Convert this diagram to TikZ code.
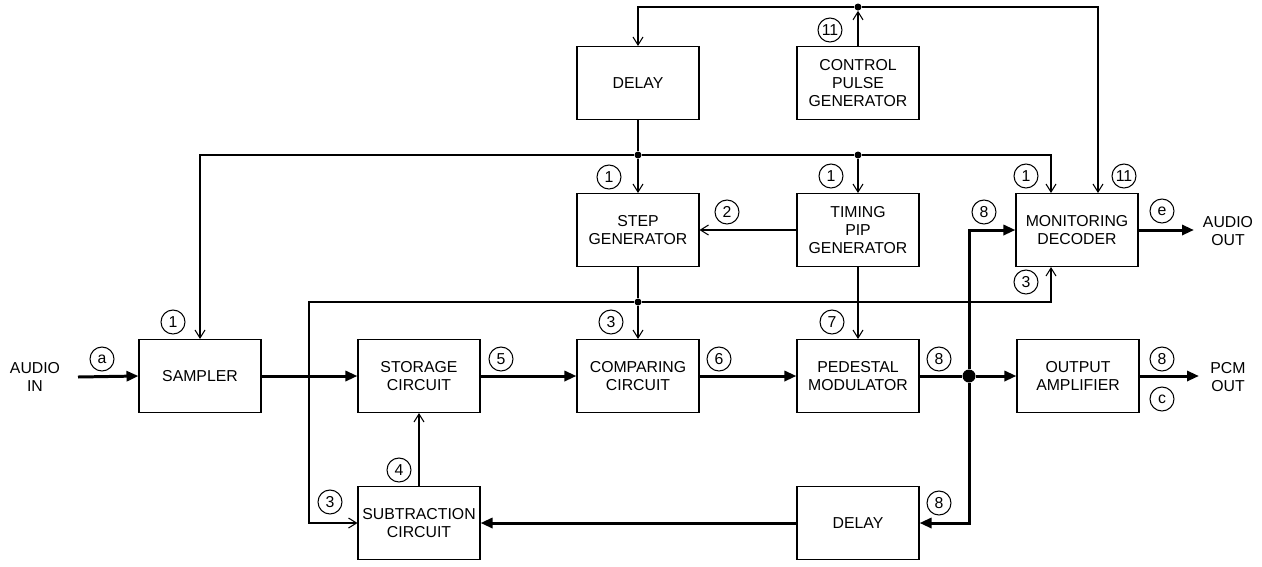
\documentclass[tikz,border=0pt]{standalone}
\usepackage{fontspec}
\setmainfont{Liberation Sans}
\usetikzlibrary{arrows.meta}
\begin{document}
\begin{tikzpicture}[x=0.02cm, y=-0.02cm,
  every node/.style={font=\fontsize{9}{10}\selectfont},
  blk/.style={draw, line width=0.6pt, minimum width=2.44cm, minimum height=1.46cm, align=center, inner sep=1pt},
  num/.style={draw, circle, line width=0.6pt, minimum size=0.48cm, inner sep=0pt, font=\fontsize{9}{10}\selectfont},
  sig/.style={line width=0.6pt, -{Straight Barb[length=1.6mm,width=2mm]}},
  bus/.style={line width=1.7pt, -{Triangle[length=2.4mm,width=2mm]}},
  dot/.style={circle, fill, inner sep=0pt, minimum size=1.4mm},
  bigdot/.style={circle, fill, inner sep=0pt, minimum size=2.6mm}]
\useasboundingbox (0,0) rectangle (1262,566);
% Blocks
\node[blk] (dlyT) at (638,83) {DELAY};
\node[blk] (cpg) at (858,83) {CONTROL\\PULSE\\GENERATOR};
\node[blk] (stepg) at (638,230) {STEP\\GENERATOR};
\node[blk] (tpg) at (858,230) {TIMING\\PIP\\GENERATOR};
\node[blk] (mdec) at (1077,230) {MONITORING\\DECODER};
\node[blk] (smp) at (200,376) {SAMPLER};
\node[blk] (stor) at (419,376) {STORAGE\\CIRCUIT};
\node[blk] (comp) at (638,376) {COMPARING\\CIRCUIT};
\node[blk] (pmod) at (858,376) {PEDESTAL\\MODULATOR};
\node[blk] (oamp) at (1078,376) {OUTPUT\\AMPLIFIER};
\node[blk] (subc) at (419,523) {SUBTRACTION\\CIRCUIT};
\node[blk] (dlyB) at (858,523) {DELAY};
% Inputs and outputs
\node[align=center] (ain) at (35,377) {AUDIO\\IN};
\node[align=center] (aout) at (1228,231) {AUDIO\\OUT};
\node[align=center] (pout) at (1228,377) {PCM\\OUT};
\coordinate (ainE) at (78,377);
\coordinate (aoutW) at (1194,230);
\coordinate (poutW) at (1199,376);
% Junctions
\node[dot] (jc) at (858,7) {};
\node[dot] (j1) at (638,155) {};
\node[dot] (j2) at (858,155) {};
\node[dot] (j3) at (638,302) {};
\node[bigdot] (jb) at (969,376) {};
\coordinate (fbL) at (309,302);
% Control pulse and timing lines
\draw[sig] (cpg.north) -- (jc);
\draw[sig] (jc) -| (dlyT.north);
\draw[sig] (jc) -| ([xshift=0.42cm]mdec.north);
\draw[line width=0.6pt] (dlyT.south) -- (j1);
\draw[line width=0.6pt] (j1) -- (j2);
\draw[sig] (j1) -- (stepg.north);
\draw[sig] (j2) -- (tpg.north);
\draw[sig] (j1) -| (smp.north);
\draw[sig] (j2) -| ([xshift=-0.52cm]mdec.north);
\draw[sig] (tpg.west) -- (stepg.east);
\draw[sig] (tpg.south) -- (pmod.north);
\draw[line width=0.6pt] (stepg.south) -- (j3);
\draw[sig] (j3) -- (comp.north);
\draw[sig] (j3) -- (fbL) |- (subc.west);
\draw[sig] (j3) -| ([xshift=-0.52cm]mdec.south);
\draw[sig] (subc.north) -- (stor.south);
% Signal path
\draw[bus] (ainE) -- (smp.west);
\draw[bus] (smp.east) -- (stor.west);
\draw[bus] (stor.east) -- (comp.west);
\draw[bus] (comp.east) -- (pmod.west);
\draw[line width=1.7pt] (pmod.east) -- (jb);
\draw[bus] (jb) -- (oamp.west);
\draw[bus] (oamp.east) -- (poutW);
\draw[bus] (jb) |- (mdec.west);
\draw[bus] (jb) |- (dlyB.east);
\draw[bus] (dlyB.west) -- (subc.east);
\draw[bus] (mdec.east) -- (aoutW);
% Waveform numbers
\node[num] (n11a) at (830,30) {11};
\node[num] (n1a) at (609,177) {1};
\node[num] (n1b) at (831,176) {1};
\node[num] (n1c) at (1026,176) {1};
\node[num] (n11b) at (1124,176) {11};
\node[num] (n2) at (727,212) {2};
\node[num] (n8a) at (984,212) {8};
\node[num] (ne) at (1162,211) {e};
\node[num] (n3a) at (1026,282) {3};
\node[num] (n1d) at (173,322) {1};
\node[num] (na) at (102,359) {a};
\node[num] (n5) at (501,359) {5};
\node[num] (n3b) at (611,322) {3};
\node[num] (n6) at (719,359) {6};
\node[num] (n7) at (832,322) {7};
\node[num] (n8b) at (939,359) {8};
\node[num] (n8c) at (1162,359) {8};
\node[num] (nc) at (1162,399) {c};
\node[num] (n4) at (399,470) {4};
\node[num] (n3c) at (330,502) {3};
\node[num] (n8d) at (939,503) {8};
\end{tikzpicture}
\end{document}
